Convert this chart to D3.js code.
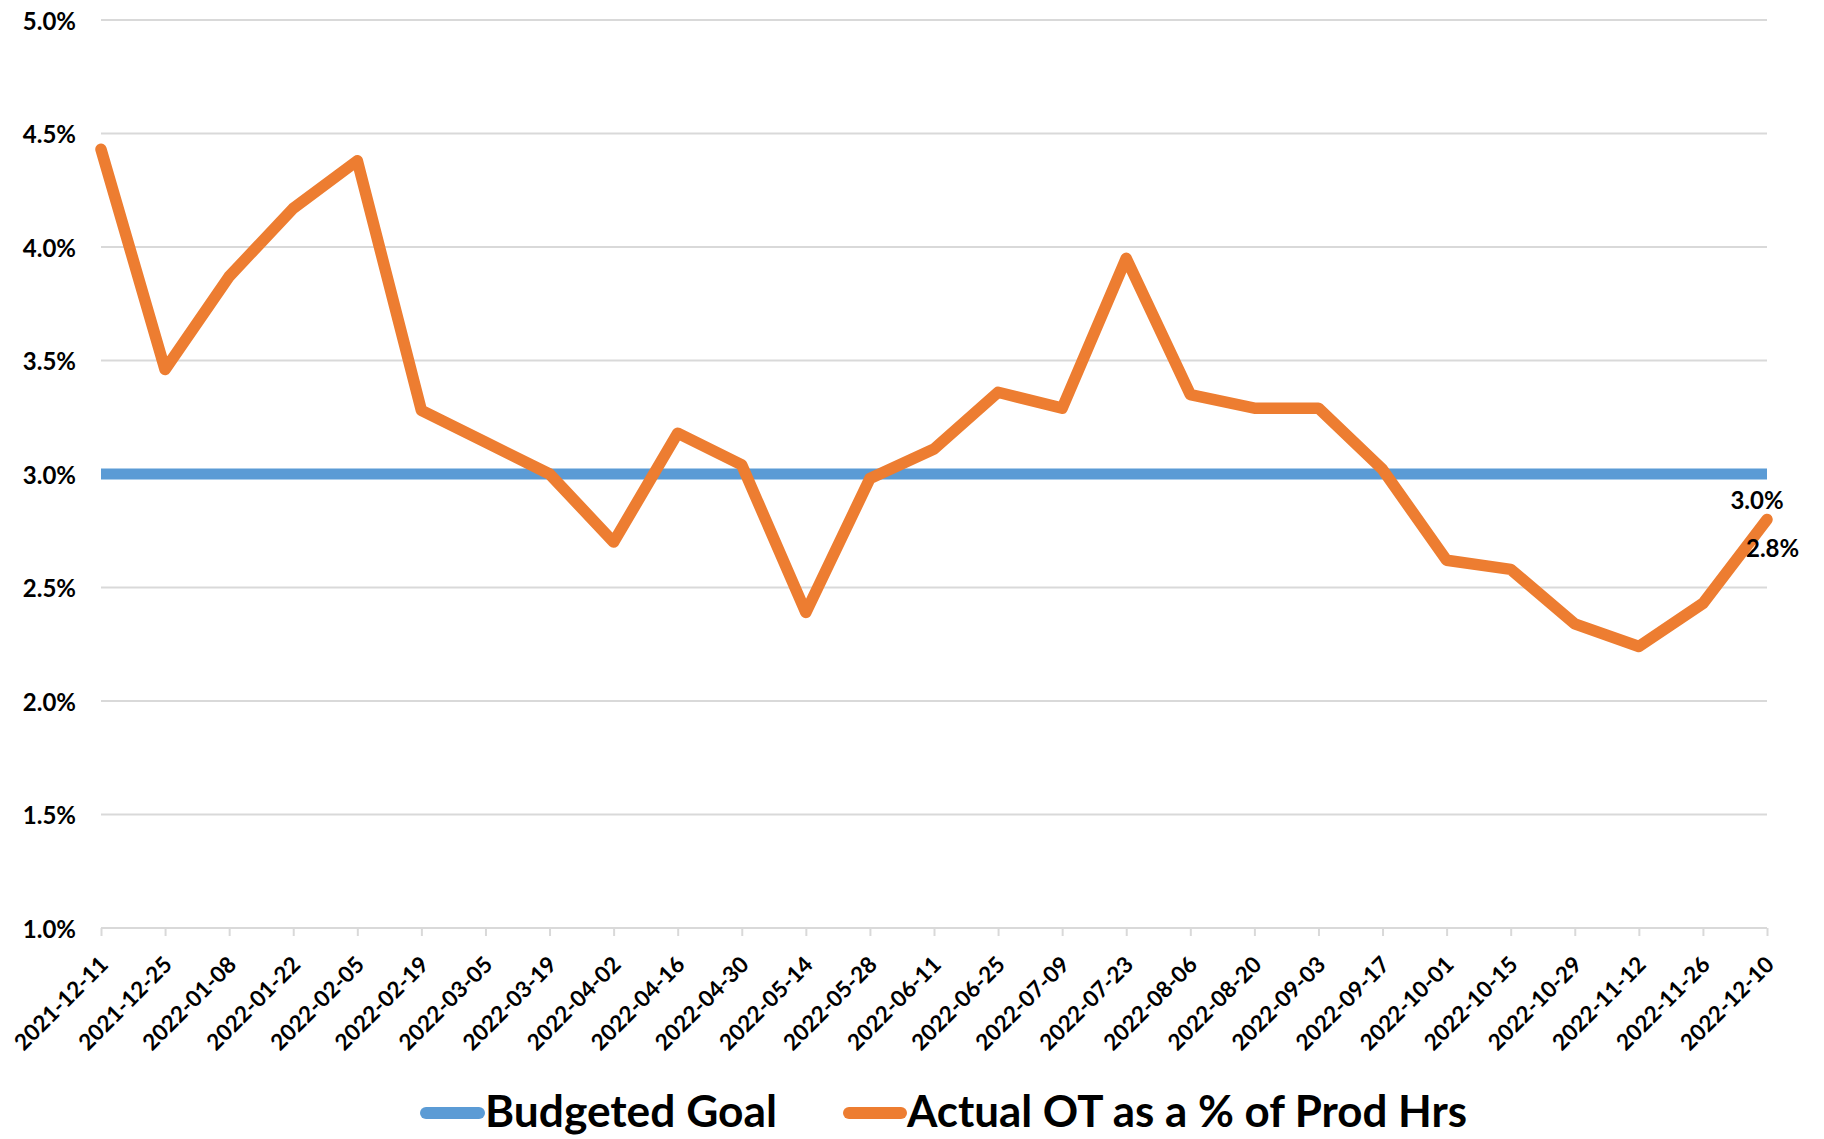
<!DOCTYPE html>
<html>
<head>
<meta charset="utf-8">
<script src="https://cdn.jsdelivr.net/npm/d3@7"></script>
<style>
  html, body { margin: 0; padding: 0; background: #fff; }
  svg { display: block; }
  text { font-family: Lato, "Open Sans", sans-serif; font-weight: 700; fill: #000; }
</style>
</head>
<body>
<svg id="chart" width="1824" height="1139"></svg>
<script>
const dates = ["2021-12-11","2021-12-25","2022-01-08","2022-01-22","2022-02-05","2022-02-19","2022-03-05","2022-03-19","2022-04-02","2022-04-16","2022-04-30","2022-05-14","2022-05-28","2022-06-11","2022-06-25","2022-07-09","2022-07-23","2022-08-06","2022-08-20","2022-09-03","2022-09-17","2022-10-01","2022-10-15","2022-10-29","2022-11-12","2022-11-26","2022-12-10"];
const budgetedGoal = [3.0,3.0,3.0,3.0,3.0,3.0,3.0,3.0,3.0,3.0,3.0,3.0,3.0,3.0,3.0,3.0,3.0,3.0,3.0,3.0,3.0,3.0,3.0,3.0,3.0,3.0,3.0];
const actualOT = [4.43,3.46,3.87,4.17,4.38,3.28,3.14,3.00,2.70,3.18,3.04,2.39,2.98,3.11,3.36,3.29,3.95,3.35,3.29,3.29,3.02,2.62,2.58,2.34,2.24,2.43,2.80];
const yTicks = [1.0,1.5,2.0,2.5,3.0,3.5,4.0,4.5,5.0];
const seriesNames = ["Budgeted Goal","Actual OT as a % of Prod Hrs"];
const seriesColors = ["#5B9BD5","#ED7D31"];

const svg = d3.select("#chart");
const mLeft = 101, mRight = 1767, mTop = 20, mBottom = 928;

const x = d3.scalePoint().domain(dates).range([mLeft, mRight]);
const y = d3.scaleLinear().domain([1, 5]).range([mBottom, mTop]);

// gridlines
svg.append("g").selectAll("line").data(yTicks.slice(1)).join("line")
  .attr("x1", mLeft).attr("x2", mRight)
  .attr("y1", d => y(d)).attr("y2", d => y(d))
  .attr("stroke", "#d9d9d9").attr("stroke-width", 2);

// y axis labels
const yAxis = d3.axisLeft(y).tickValues(yTicks).tickFormat(d => d3.format(".1f")(d) + "%").tickSize(0).tickPadding(0);
const gy = svg.append("g").attr("transform", `translate(${mLeft - 25},0)`).call(yAxis);
gy.select(".domain").remove();
gy.selectAll("text").attr("font-size", 24).attr("font-family", "Lato, sans-serif").attr("font-weight", 700).attr("fill", "#000").attr("dy", "0.38em");

// x axis
const xAxis = d3.axisBottom(x).tickSize(8).tickPadding(0);
const gx = svg.append("g").attr("transform", `translate(0,${mBottom})`).call(xAxis);
gx.select(".domain").attr("stroke", "#d9d9d9").attr("stroke-width", 2).attr("d", `M${mLeft},0H${mRight}`);
gx.selectAll(".tick line").attr("stroke", "#d9d9d9").attr("stroke-width", 2);
gx.selectAll(".tick text")
  .attr("font-size", 22.5).attr("font-family", "Lato, sans-serif").attr("font-weight", 700).attr("fill", "#000")
  .attr("text-anchor", "end").attr("dy", null).attr("y", null)
  .attr("transform", "translate(8,38) rotate(-45)");

// lines
const line = d3.line().x((d, i) => x(dates[i])).y(d => y(d));
svg.append("path").datum(budgetedGoal).attr("d", line)
  .attr("fill", "none").attr("stroke", seriesColors[0]).attr("stroke-width", 11).attr("stroke-linecap", "butt");
svg.append("path").datum(actualOT).attr("d", line)
  .attr("fill", "none").attr("stroke", seriesColors[1]).attr("stroke-width", 11.5)
  .attr("stroke-linejoin", "round").attr("stroke-linecap", "round");

// end data labels
const lastDate = dates[dates.length - 1];
svg.append("text").attr("x", x(lastDate) - 10).attr("y", y(budgetedGoal[budgetedGoal.length - 1]) + 35)
  .attr("text-anchor", "middle").attr("font-size", 24)
  .text(d3.format(".1f")(budgetedGoal[budgetedGoal.length - 1]) + "%");
svg.append("text").attr("x", x(lastDate) - 21).attr("y", y(actualOT[actualOT.length - 1]) + 38)
  .attr("text-anchor", "start").attr("font-size", 24)
  .text(d3.format(".1f")(actualOT[actualOT.length - 1]) + "%");

// legend
const legendItems = [
  {name: seriesNames[0], color: seriesColors[0], lx: 420, tx: 485, tw: 292},
  {name: seriesNames[1], color: seriesColors[1], lx: 843, tx: 907, tw: 560}
];
const lg = svg.append("g");
legendItems.forEach(it => {
  lg.append("line").attr("x1", it.lx + 6).attr("x2", it.tx - 6).attr("y1", 1113).attr("y2", 1113)
    .attr("stroke", it.color).attr("stroke-width", 12).attr("stroke-linecap", "round");
  lg.append("text").attr("x", it.tx).attr("y", 1127).attr("font-size", 44)
    .attr("textLength", it.tw).attr("lengthAdjust", "spacingAndGlyphs").text(it.name);
});
</script>
</body>
</html>
